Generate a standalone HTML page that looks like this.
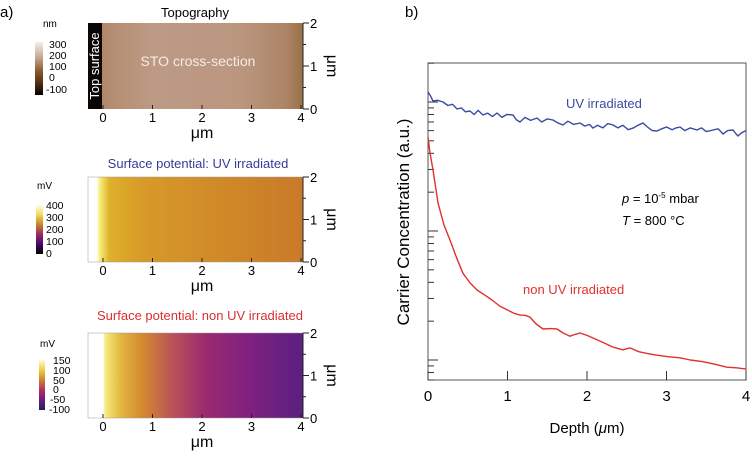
<!DOCTYPE html>
<html><head><meta charset="utf-8"><style>
html,body{margin:0;padding:0;background:#fff;}
svg{display:block;font-family:"Liberation Sans",sans-serif;}
</style></head><body>
<svg id="fig" width="752" height="456" viewBox="0 0 752 456">
<defs>
<linearGradient id="topoG" x1="0" x2="1" y1="0" y2="0">
<stop offset="0" stop-color="#a67a58"/><stop offset="0.1" stop-color="#b48c70"/><stop offset="0.3" stop-color="#bd9a86"/><stop offset="0.7" stop-color="#bb9780"/><stop offset="0.92" stop-color="#ad8566"/><stop offset="1" stop-color="#9c7048"/></linearGradient>
<linearGradient id="topoCB" x1="0" x2="0" y1="0" y2="1">
<stop offset="0" stop-color="#f4eeea"/><stop offset="0.3" stop-color="#c4a58e"/><stop offset="0.55" stop-color="#8a5a30"/><stop offset="0.8" stop-color="#4a2a10"/><stop offset="1" stop-color="#000"/></linearGradient>
<linearGradient id="uvG" x1="0" x2="1" y1="0" y2="0">
<stop offset="0" stop-color="#ffffff"/><stop offset="0.04" stop-color="#ffffff"/><stop offset="0.055" stop-color="#f6ee7a"/><stop offset="0.1" stop-color="#e0b02a"/><stop offset="0.25" stop-color="#d89a28"/><stop offset="0.6" stop-color="#d08a28"/><stop offset="1" stop-color="#c97a28"/></linearGradient>
<linearGradient id="uvCB" x1="0" x2="0" y1="0" y2="1">
<stop offset="0" stop-color="#fff"/><stop offset="0.2" stop-color="#f0e060"/><stop offset="0.4" stop-color="#c88a28"/><stop offset="0.6" stop-color="#a02a60"/><stop offset="0.8" stop-color="#400a70"/><stop offset="1" stop-color="#000"/></linearGradient>
<linearGradient id="nuvG" x1="0" x2="1" y1="0" y2="0">
<stop offset="0" stop-color="#ffffff"/><stop offset="0.07" stop-color="#ffffff"/><stop offset="0.08" stop-color="#f5ec80"/><stop offset="0.15" stop-color="#e4b840"/><stop offset="0.25" stop-color="#d48a30"/><stop offset="0.4" stop-color="#b8505a"/><stop offset="0.55" stop-color="#9a2a70"/><stop offset="0.75" stop-color="#802080"/><stop offset="1" stop-color="#5a2080"/></linearGradient>
<linearGradient id="nuvCB" x1="0" x2="0" y1="0" y2="1">
<stop offset="0" stop-color="#fffbd0"/><stop offset="0.2" stop-color="#e8d040"/><stop offset="0.4" stop-color="#d08030"/><stop offset="0.6" stop-color="#b03060"/><stop offset="0.8" stop-color="#701a80"/><stop offset="1" stop-color="#202060"/></linearGradient>
</defs>

<text x="0" y="17" font-size="15">a)</text>
<text x="405" y="17" font-size="15">b)</text>

<g>
<text x="195" y="17" font-size="13" text-anchor="middle">Topography</text>
<rect x="88" y="23" width="215" height="86" fill="url(#topoG)"/>
<rect x="88" y="23" width="14" height="86" fill="#0a0604"/>
<text transform="translate(99,66) rotate(-90)" font-size="13" fill="#fff" text-anchor="middle">Top surface</text>
<text x="198" y="66" font-size="14" fill="#f4ece6" text-anchor="middle">STO cross-section</text>
<rect x="35" y="42" width="8" height="53" fill="url(#topoCB)"/>
<text x="43" y="27" font-size="10">nm</text>
<g font-size="10.5">
<text x="49" y="48">300</text><text x="49" y="59">200</text><text x="49" y="70">100</text><text x="49" y="81">0</text><text x="46" y="93">-100</text></g>
</g>

<g>
<text x="198" y="168" font-size="13" fill="#3a3a98" text-anchor="middle">Surface potential: UV irradiated</text>
<rect x="88" y="177" width="215" height="85" fill="url(#uvG)" stroke="#999" stroke-width="0.5"/>
<rect x="36" y="204" width="7" height="50" fill="url(#uvCB)"/>
<text x="37" y="189" font-size="10">mV</text>
<g font-size="10.5">
<text x="46" y="209">400</text><text x="46" y="221">300</text><text x="46" y="233">200</text><text x="46" y="245">100</text><text x="46" y="257">0</text></g>
</g>

<g>
<text x="200" y="320" font-size="13" fill="#d83030" text-anchor="middle">Surface potential: non UV irradiated</text>
<rect x="88" y="333" width="215" height="85" fill="url(#nuvG)" stroke="#999" stroke-width="0.5"/>
<rect x="39" y="360" width="6" height="50" fill="url(#nuvCB)"/>
<text x="40" y="347" font-size="10">mV</text>
<g font-size="10.5">
<text x="53" y="364">150</text><text x="53" y="374">100</text><text x="53" y="384">50</text><text x="53" y="393">0</text><text x="50" y="403">-50</text><text x="49" y="413">-100</text></g>
</g>

<g id="mapAxes"></g>
<g id="mainPlot"></g>

<text x="587" y="433" font-size="15" text-anchor="middle">Depth (<tspan font-style="italic">μ</tspan>m)</text>
<text transform="translate(409,222) rotate(-90)" font-size="17" text-anchor="middle">Carrier Concentration (a.u.)</text>
<text x="566" y="108" font-size="13" fill="#3a4aa0">UV irradiated</text>
<text x="523" y="294" font-size="13" fill="#e03030">non UV irradiated</text>
<text x="622" y="203" font-size="13"><tspan font-style="italic">p</tspan> = 10<tspan font-size="8" dy="-5">-5</tspan><tspan dy="5"> mbar</tspan></text>
<text x="622" y="225" font-size="13"><tspan font-style="italic">T</tspan> = 800 °C</text>
</svg>
<script>
const mapTicksX = [0,1,2,3,4];
const mapTicksY = [0,1,2];
const uvDepth = [0,0.03,0.063,0.12,0.189,0.25,0.31,0.365,0.42,0.47,0.528,0.58,0.63,0.692,0.75,0.81,0.868,0.93,0.99,1.069,1.11,1.157,1.22,1.29,1.371,1.43,1.5,1.572,1.63,1.698,1.76,1.83,1.912,1.97,2.03,2.075,2.13,2.2,2.26,2.327,2.39,2.45,2.52,2.579,2.64,2.704,2.76,2.82,2.88,2.94,3.0,3.07,3.12,3.17,3.23,3.3,3.384,3.44,3.5,3.585,3.65,3.711,3.77,3.836,3.87,3.899,3.935,3.962,4.0];
const uvConc = [119.6,112,101.9,103,100,94,96,88.3,90,84,85.2,80,86,79.3,82,77,82.2,76,80,79.3,73,70.0,76,72,75.2,70,74,72.5,69,66.3,71,67,68.8,65,67,62.8,66,63,68,66.3,63,66,61,62.8,66,68.8,64,60,59.6,62,64,61,63,64.0,60,63,60.7,63,59,60.7,62,56.5,60,60.7,57,54.5,57,58.5,60];
const nonUvDepth = [0,0.025,0.063,0.126,0.2,0.277,0.36,0.44,0.53,0.616,0.71,0.805,0.9,1.0,1.08,1.157,1.22,1.283,1.36,1.447,1.54,1.623,1.7,1.786,1.85,1.912,2.0,2.075,2.2,2.327,2.45,2.541,2.65,2.77,2.88,3.02,3.17,3.3,3.46,3.6,3.76,3.88,4.0];
const nonUvConc = [53.6,40.3,29.7,16.5,11.2,8.5,6.2,4.7,3.95,3.49,3.2,2.92,2.62,2.44,2.3,2.23,2.22,2.15,1.9,1.74,1.75,1.74,1.62,1.53,1.58,1.62,1.55,1.48,1.37,1.26,1.2,1.24,1.16,1.12,1.09,1.06,1.04,1.0,0.97,0.93,0.88,0.87,0.85];
const xTicks = [0,1,2,3,4];

const mapPanels = [{top:23,bot:109},{top:177,bot:262},{top:333,bot:418}];
const NS="http://www.w3.org/2000/svg";
function mk(tag,attrs,parent,text){const e=document.createElementNS(NS,tag);for(const k in attrs)e.setAttribute(k,attrs[k]);if(text!==undefined)e.textContent=text;parent.appendChild(e);return e;}
const ma=document.getElementById('mapAxes');
const mx=v=>103+v*(301-103)/4;
mapPanels.forEach((p)=>{
  const my=v=>p.bot-v*(p.bot-p.top)/2;
  mk('line',{x1:303,x2:303,y1:p.top,y2:p.bot,stroke:'#222','stroke-width':1},ma);
  mapTicksX.forEach(v=>{
    mk('line',{x1:mx(v),x2:mx(v),y1:p.bot,y2:p.bot-4,stroke:'#222'},ma);
    const t=mk('text',{x:mx(v),y:p.bot+13,'font-size':13,'text-anchor':'middle'},ma,String(v));
    
    
  });
  for(let v=0;v<=2;v+=0.5){mk('line',{x1:303,x2:v%1===0?309:306,y1:my(v),y2:my(v),stroke:'#222'},ma);}
  mapTicksY.forEach(v=>{
    const t=mk('text',{x:310,y:my(v)+5,'font-size':13},ma,String(v));
    
    
  });
  const xl=mk('text',{x:202,y:p.bot+29,'font-size':16,'text-anchor':'middle'},ma,'μm');
  
  
  const yl=mk('text',{transform:'translate(327,'+((p.top+p.bot)/2)+') rotate(90)','font-size':16,'text-anchor':'middle'},ma,'μm');
  
  
});

const L=428,R=746,T=63,B=380;
const X=v=>L+v*(R-L)/4;
const Y=v=>360-Math.log10(v)*129;
const g=document.getElementById('mainPlot');
mk('rect',{x:L,y:T,width:R-L,height:B-T,fill:'none',stroke:'#555','stroke-width':1},g);
xTicks.forEach(v=>{
  mk('line',{x1:X(v),x2:X(v),y1:B,y2:B-9,stroke:'#333'},g);
  const t=mk('text',{x:X(v),y:B+21,'font-size':15,'text-anchor':'middle'},g,String(v));
  
  
});
[0.1,1,10,100].forEach(dec=>{for(let m=1;m<=9;m++){const v=dec*m;const y=Y(v);if(y<T||y>B)continue;mk('line',{x1:L,x2:L+(m===1?10:6),y1:y,y2:y,stroke:'#333'},g);}});
function path(xs,ys,color,name){
  const d=xs.map((x,i)=>(i?'L':'M')+X(x).toFixed(1)+','+Y(ys[i]).toFixed(1)).join('');
  const p=mk('path',{d:d,fill:'none',stroke:color,'stroke-width':1.4,'stroke-linejoin':'round'},g);
  
  
}
path(uvDepth,uvConc,'#3a4aa0','uv-irradiated-line');
path(nonUvDepth,nonUvConc,'#e03030','non-uv-irradiated-line');
</script>
</body></html>
